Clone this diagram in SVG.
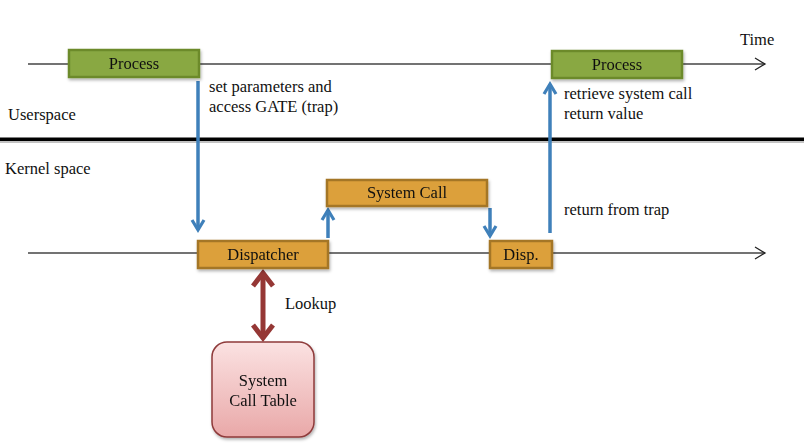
<svg xmlns="http://www.w3.org/2000/svg" width="804" height="447" viewBox="0 0 804 447">
<style>
.tl{stroke:#444;stroke-width:1.3;fill:none}
.g{fill:#89a843;stroke:#6c8a2c;stroke-width:2.5}
.o{fill:#dca03a;stroke:#a47628;stroke-width:2.5}
.b{stroke:#3f80ba;stroke-width:3.5;fill:none}
</style>
<defs>
<marker id="open" markerWidth="14" markerHeight="14" refX="11" refY="7" orient="auto" markerUnits="userSpaceOnUse"><path d="M1,1 L11,7 L1,13" fill="none" stroke="#222" stroke-width="1.3"/></marker>
<marker id="ba" markerWidth="16" markerHeight="16" refX="12" refY="8" orient="auto" markerUnits="userSpaceOnUse"><path d="M2,2 L12,8 L2,14" fill="none" stroke="#3f80ba" stroke-width="3.2"/></marker>
<marker id="ra" markerWidth="22" markerHeight="24" refX="16" refY="12" orient="auto-start-reverse" markerUnits="userSpaceOnUse"><path d="M3,2 L16,12 L3,22" fill="none" stroke="#953735" stroke-width="5"/></marker>
<linearGradient id="pk" x1="0" y1="0" x2="0" y2="1"><stop offset="0" stop-color="#fbe2e2"/><stop offset="1" stop-color="#e9a8a8"/></linearGradient>
<filter id="sh" x="-20%" y="-20%" width="150%" height="160%"><feDropShadow dx="1" dy="2" stdDeviation="1.5" flood-color="#000" flood-opacity="0.3"/></filter>
</defs>
<g id="timelines">
<line class="tl" x1="28" y1="64" x2="765" y2="64" marker-end="url(#open)"/>
<line class="tl" x1="28" y1="253" x2="765" y2="253" marker-end="url(#open)"/>
<rect x="0" y="140" width="804" height="3" fill="#999" opacity="0.6"/>
<rect x="0" y="137.5" width="804" height="3.5" fill="#000"/>
</g>
<g id="connectors">
<line class="b" x1="198" y1="81" x2="198" y2="230" marker-end="url(#ba)"/>
<line class="b" x1="328" y1="238" x2="328" y2="210" marker-end="url(#ba)"/>
<line class="b" x1="490" y1="208" x2="490" y2="236" marker-end="url(#ba)"/>
<line class="b" x1="550" y1="233" x2="550" y2="84" marker-end="url(#ba)"/>
<line x1="263" y1="273" x2="263" y2="338" stroke="#953735" stroke-width="5" marker-start="url(#ra)" marker-end="url(#ra)"/>
</g>
<g id="labels" fill="#111">
<text x="740" y="45" font-family="Liberation Serif" font-size="16.5">Time</text>
<text x="8" y="120" font-family="Liberation Serif" font-size="16.5">Userspace</text>
<text x="5" y="174" font-family="Liberation Serif" font-size="16.5">Kernel space</text>
<text x="209" y="92" font-family="Liberation Serif" font-size="16.5">set parameters and</text>
<text x="209" y="112" font-family="Liberation Serif" font-size="16.5">access GATE (trap)</text>
<text x="564" y="99" font-family="Liberation Serif" font-size="16.5">retrieve system call</text>
<text x="564" y="119" font-family="Liberation Serif" font-size="16.5">return value</text>
<text x="564" y="215" font-family="Liberation Serif" font-size="16.5">return from trap</text>
<text x="285" y="309" font-family="Liberation Serif" font-size="16.5">Lookup</text>
</g>
<g id="process1" filter="url(#sh)"><rect class="g" x="69" y="50" width="130" height="27"/><text x="134" y="69" text-anchor="middle" font-family="Liberation Serif" font-size="16.5" fill="#111">Process</text></g>
<g id="process2" filter="url(#sh)"><rect class="g" x="552" y="51" width="130" height="27"/><text x="617" y="70" text-anchor="middle" font-family="Liberation Serif" font-size="16.5" fill="#111">Process</text></g>
<g id="dispatcher" filter="url(#sh)"><rect class="o" x="198" y="241" width="130" height="27"/><text x="263" y="260" text-anchor="middle" font-family="Liberation Serif" font-size="16.5" fill="#111">Dispatcher</text></g>
<g id="syscall" filter="url(#sh)"><rect class="o" x="327" y="180" width="160" height="26"/><text x="407" y="198" text-anchor="middle" font-family="Liberation Serif" font-size="16.5" fill="#111">System Call</text></g>
<g id="disp" filter="url(#sh)"><rect class="o" x="490" y="241" width="62" height="27"/><text x="521" y="260" text-anchor="middle" font-family="Liberation Serif" font-size="16.5" fill="#111">Disp.</text></g>
<g id="table" filter="url(#sh)"><rect x="212" y="342" width="102" height="95" rx="15" fill="url(#pk)" stroke="#8e3a3a" stroke-width="1.5"/><text x="263" y="386" text-anchor="middle" font-family="Liberation Serif" font-size="16.5" fill="#111">System</text><text x="263" y="406" text-anchor="middle" font-family="Liberation Serif" font-size="16.5" fill="#111">Call Table</text></g>
</svg>
